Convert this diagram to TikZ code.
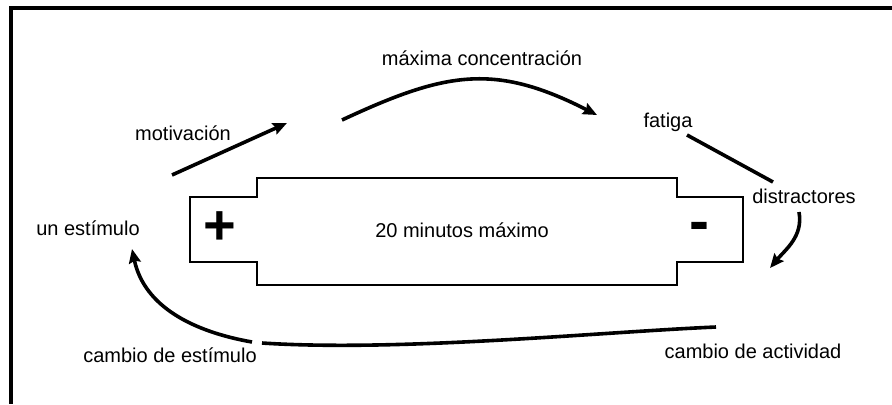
\documentclass[tikz,border=0pt]{standalone}
\usepackage{fontspec}
\setmainfont{Liberation Sans}
\usetikzlibrary{arrows.meta}

\begin{document}
\begin{tikzpicture}[x=0.5pt,y=0.5pt,
    lbl/.style={inner sep=0pt,anchor=base,font=\fontsize{10}{12}\selectfont},
    sgn/.style={inner sep=0pt,font=\bfseries\fontsize{28}{30}\selectfont},
    flecha/.style={line width=1.8pt,-{Stealth[length=7pt,width=6pt,inset=1pt]}},
    trazo/.style={line width=1.8pt}]
    \useasboundingbox (0,0) rectangle (892,404);
    \draw[line width=2.2pt] (892,396) -- (11,396) -- (11,0);

    % la pila
    \draw[line width=1.4pt] (190,207) -- (257,207) -- (257,226) -- (677,226) -- (677,207)
        -- (743,207) -- (743,142) -- (677,142) -- (677,119) -- (257,119) -- (257,142)
        -- (190,142) -- cycle;
    \node[sgn] (mas) at (220,176) {+};
    \node[sgn,font=\bfseries\fontsize{30}{32}\selectfont] (menos) at (699,172) {-};
    \node[lbl] (tiempo) at (462,167) {20 minutos máximo};

    \node[lbl] (estimulo) at (88,169) {un estímulo};
    \node[lbl] (motiv) at (183,264) {motivación};
    \node[lbl] (conc) at (482,339) {máxima concentración};
    \node[lbl] (fatiga) at (668,277) {fatiga};
    \node[lbl] (distr) at (804,201) {distractores};
    \node[lbl] (cactiv) at (753,46) {cambio de actividad};
    \node[lbl] (cestim) at (170,42) {cambio de estímulo};

    \coordinate (m0) at (172,229); \coordinate (m1) at (287,281);
    \coordinate (c0) at (342,284); \coordinate (c1) at (597,289);
    \coordinate (f0) at (687,269); \coordinate (f1) at (773,222);
    \coordinate (d0) at (799,192); \coordinate (d1) at (770,136);
    \coordinate (a0) at (716,77);  \coordinate (a1) at (262,61);
    \coordinate (e0) at (252,62);  \coordinate (e1) at (132,155);

    \draw[flecha] (m0) -- (m1);
    \draw[flecha] (c0) to[out=25,in=153,looseness=1.15] (c1);
    \draw[trazo] (f0) -- (f1);
    \draw[flecha] (d0) to[out=-80,in=50] (d1);
    \draw[trazo] (a0) .. controls (600,72) and (400,52) .. (a1);
    \draw[flecha] (e0) to[out=170,in=-78] (e1);
\end{tikzpicture}
\end{document}
